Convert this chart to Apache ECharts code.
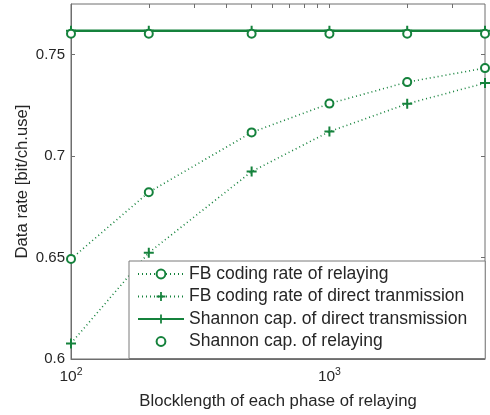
<!DOCTYPE html>
<html>
<head>
<meta charset="utf-8">
<script src="https://cdn.jsdelivr.net/npm/echarts@6/dist/echarts.min.js"></script>
<style>html,body{margin:0;padding:0;background:#fff}#c{width:490px;height:415px}</style>
</head>
<body>
<div id="c"></div>
<script>
const blocklengths = [100, 200, 500, 1000, 2000, 4000];
const fbRelaying = [0.6493, 0.6822, 0.7117, 0.7259, 0.7365, 0.7434];
const fbDirect = [0.6077, 0.6524, 0.6924, 0.7121, 0.7258, 0.7360];
const shannonDirect = [0.7618, 0.7618, 0.7618, 0.7618, 0.7618, 0.7618];
const shannonRelaying = [0.7603, 0.7603, 0.7603, 0.7603, 0.7603, 0.7603];
const seriesNames = [
  'FB coding rate of relaying',
  'FB coding rate of direct tranmission',
  'Shannon cap. of direct transmission',
  'Shannon cap. of relaying'
];
const xMajorTicks = [100, 1000];
const xMinorTicks = [200, 300, 400, 500, 600, 700, 800, 900, 1000, 2000, 3000];
const yTicks = [0.6, 0.65, 0.7, 0.75];

const green = '#15823c';
const plusPath = 'path://M4,0H6V4H10V6H6V10H4V6H0V4H4Z';
const pairs = v => blocklengths.map((x, i) => [x, v[i]]);
const font = 'Liberation Sans, Arial, sans-serif';
const txt = '#262626';
const axisCol = '#6e6e6e';

const chart = echarts.init(document.getElementById('c'), null, {renderer: 'canvas'});
chart.setOption({
  animation: false,
  textStyle: {fontFamily: font},
  grid: {left: 71, top: 4, right: 5, bottom: 56, show: true, borderColor: axisCol, borderWidth: 1},
  legend: {
    orient: 'vertical', left: 129, top: 261,
    padding: [3, 18, 7, 8],
    itemWidth: 46, itemHeight: 11, itemGap: 2.5,
    backgroundColor: '#fff', borderColor: '#7a7a7a', borderWidth: 1,
    textStyle: {fontSize: 17.5, color: txt, fontFamily: font, lineHeight: 20},
    data: seriesNames
  },
  xAxis: [{
    type: 'log', logBase: 10, min: 100, max: 4000,
    name: 'Blocklength of each phase of relaying', nameLocation: 'middle', nameGap: 34,
    nameMoveOverlap: false,
    nameTextStyle: {fontSize: 16.7, color: txt, fontFamily: font},
    axisLine: {lineStyle: {color: axisCol}},
    axisTick: {inside: true, length: 4, customValues: xMinorTicks, lineStyle: {color: axisCol}},
    axisLabel: {
      customValues: xMajorTicks, margin: 8,
      formatter: v => '{b|10}{s|' + Math.round(Math.log10(v)) + '}',
      rich: {b: {fontSize: 15.5, color: txt, fontFamily: font}, s: {fontSize: 10.5, color: txt, fontFamily: font, padding: [0, 0, 9, 0]}}
    },
    splitLine: {show: false}
  }, {
    type: 'log', logBase: 10, min: 100, max: 4000, position: 'top',
    axisLine: {show: false},
    axisTick: {inside: true, length: 4, customValues: xMinorTicks, lineStyle: {color: axisCol}},
    axisLabel: {show: false}, splitLine: {show: false}
  }],
  yAxis: [{
    type: 'value', min: 0.6, max: 0.775, interval: 0.05,
    name: 'Data rate [bit/ch.use]', nameLocation: 'middle', nameGap: 40,
    nameMoveOverlap: false,
    nameTextStyle: {fontSize: 16.7, color: txt, fontFamily: font},
    axisLine: {show: true, lineStyle: {color: axisCol}},
    axisTick: {inside: true, length: 4, customValues: yTicks, lineStyle: {color: axisCol}},
    axisLabel: {customValues: yTicks, fontSize: 15, color: txt, margin: 6, fontFamily: font, formatter: v => String(+v.toFixed(3))},
    splitLine: {show: false}
  }, {
    type: 'value', min: 0.6, max: 0.775, position: 'right',
    axisLine: {show: false},
    axisTick: {show: true, inside: true, length: 4, customValues: yTicks, lineStyle: {color: axisCol}},
    axisLabel: {show: false}, splitLine: {show: false}
  }],
  series: [{
    name: seriesNames[0], type: 'line', data: pairs(fbRelaying),
    symbol: 'emptyCircle', symbolSize: 8,
    itemStyle: {color: green, borderWidth: 2.5},
    lineStyle: {color: green, width: 1.6, type: [1, 3]}, z: 3
  }, {
    name: seriesNames[1], type: 'line', data: pairs(fbDirect),
    symbol: plusPath, symbolSize: 10,
    itemStyle: {color: green},
    lineStyle: {color: green, width: 1.6, type: [1, 3]}, z: 3
  }, {
    name: seriesNames[2], type: 'line', data: pairs(shannonDirect),
    symbol: plusPath, symbolSize: 10,
    itemStyle: {color: green},
    lineStyle: {color: green, width: 2.5, type: 'solid'}, z: 4
  }, {
    name: seriesNames[3], type: 'line', data: pairs(shannonRelaying),
    symbol: 'emptyCircle', symbolSize: 8,
    itemStyle: {color: green, borderWidth: 2.5},
    lineStyle: {width: 0, opacity: 0}, z: 5
  }]
});
</script>
</body>
</html>
